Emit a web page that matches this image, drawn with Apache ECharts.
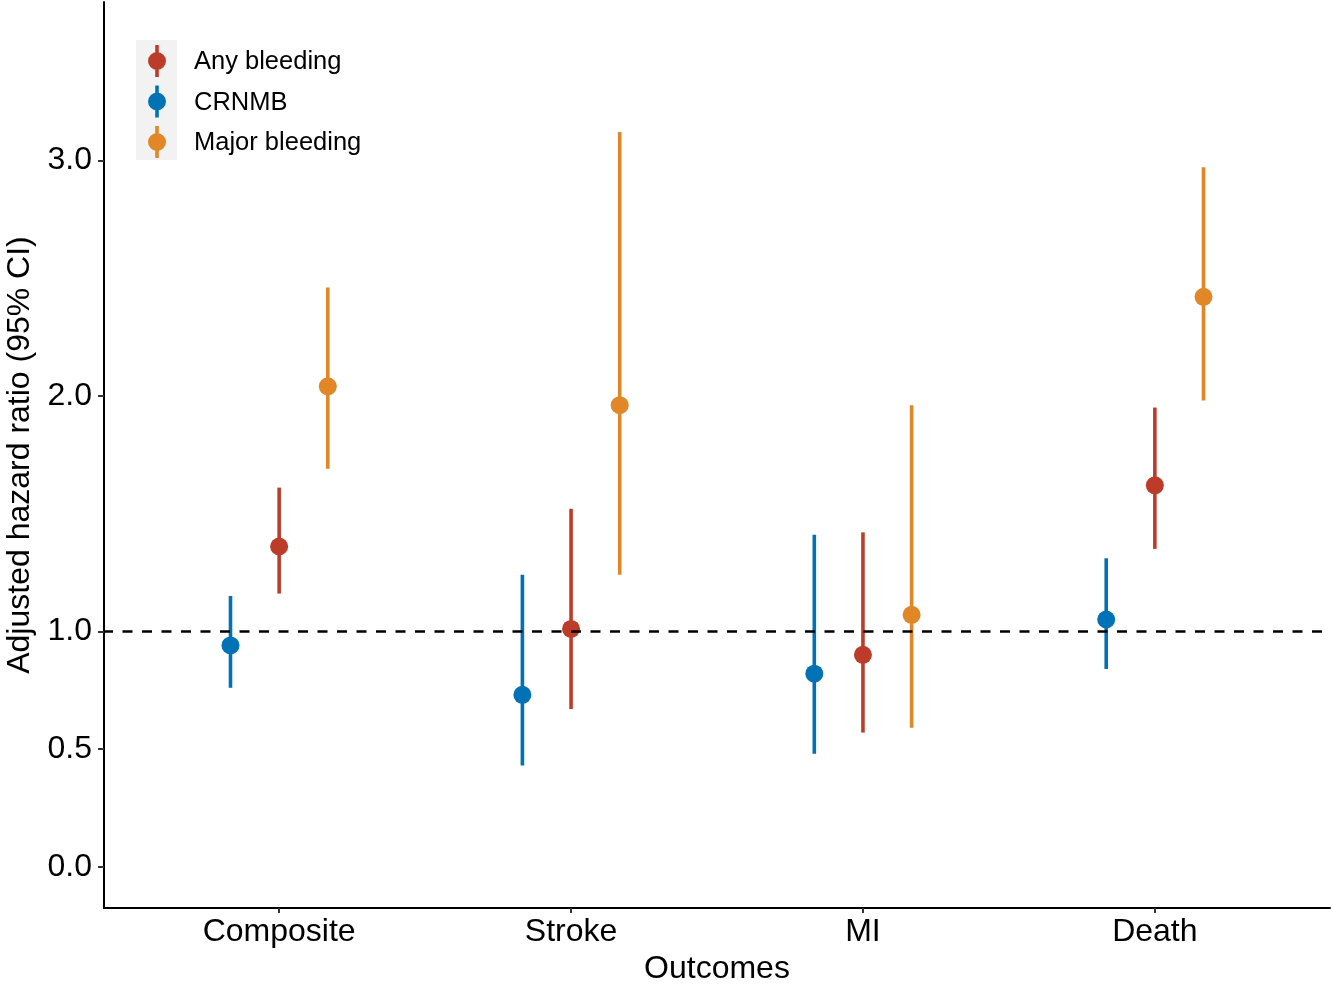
<!DOCTYPE html>
<html>
<head>
<meta charset="utf-8">
<script src="https://cdn.jsdelivr.net/npm/echarts@6/dist/echarts.min.js"></script>
<style>html,body{margin:0;padding:0;background:#fff}#c{width:1333px;height:984px}</style>
</head>
<body>
<div id="c"></div>
<script>
// ---- data ----
const categories = ['Composite', 'Stroke', 'MI', 'Death'];
const seriesNames = ['Any bleeding', 'CRNMB', 'Major bleeding'];
const anyEst = [1.36, 1.01, 0.90, 1.62];
const anyLo  = [1.16, 0.67, 0.57, 1.35];
const anyHi  = [1.61, 1.52, 1.42, 1.95];
const crnmbEst = [0.94, 0.73, 0.82, 1.05];
const crnmbLo  = [0.76, 0.43, 0.48, 0.84];
const crnmbHi  = [1.15, 1.24, 1.41, 1.31];
const majorEst = [2.04, 1.96, 1.07, 2.42];
const majorLo  = [1.69, 1.24, 0.59, 1.98];
const majorHi  = [2.46, 3.12, 1.96, 2.97];
const yTicks = [0, 0.5, 1, 2, 3];
const refLine = 1;

// ---- layout / style ----
const colors = ['#BC3C29', '#0072B5', '#E18727'];
const dodge = [0, -1 / 6, 1 / 6];
const FONT = 'Liberation Sans';
const groups = [
  {est: anyEst, lo: anyLo, hi: anyHi},
  {est: crnmbEst, lo: crnmbLo, hi: crnmbHi},
  {est: majorEst, lo: majorLo, hi: majorHi}
];

const iconPath = 'path://M-1.8,-16 L1.8,-16 L1.8,16 L-1.8,16 Z M-9,0 A9,9 0 1,1 9,0 A9,9 0 1,1 -9,0 Z';

const series = [];
groups.forEach((g, k) => {
  const pts = categories.map((c, i) => [i + 1 + dodge[k], g.est[i]]);
  const bars = categories.map((c, i) => [i + 1 + dodge[k], g.lo[i], g.hi[i]]);
  series.push({
    name: seriesNames[k],
    type: 'custom',
    data: bars,
    encode: {x: 0, y: [1, 2]},
    itemStyle: {color: colors[k]},
    z: 2,
    silent: true,
    renderItem: function (params, api) {
      const x = api.value(0);
      const p1 = api.coord([x, api.value(1)]);
      const p2 = api.coord([x, api.value(2)]);
      return {
        type: 'line',
        shape: {x1: p1[0], y1: p1[1], x2: p2[0], y2: p2[1]},
        style: {stroke: colors[k], lineWidth: 3.6, lineCap: 'butt'}
      };
    }
  });
  series.push({
    name: seriesNames[k],
    type: 'scatter',
    data: pts,
    symbol: 'circle',
    symbolSize: 18,
    itemStyle: {color: colors[k], opacity: 1},
    z: 3,
    silent: true
  });
});
// reference line
series.push({
  name: 'ref',
  type: 'line',
  data: [],
  markLine: {
    silent: true,
    symbol: ['none', 'none'],
    label: {show: false},
    lineStyle: {color: '#000', width: 2.5, type: [10, 9.5], dashOffset: 1},
    data: [{yAxis: refLine}]
  },
  z: 1
});

const chart = echarts.init(document.getElementById('c'), null, {renderer: 'canvas'});
chart.setOption({
  backgroundColor: '#fff',
  animation: false,
  textStyle: {fontFamily: FONT},
  grid: {left: 104, right: 3, top: 2, bottom: 76, containLabel: false, outerBoundsMode: 'none'},
  graphic: [{
    type: 'rect',
    left: 136, top: 40, z: 0,
    shape: {width: 41, height: 120},
    style: {fill: '#F2F2F2'}
  }],
  legend: {
    left: 148, top: 45, orient: 'vertical',
    padding: 0,
    itemWidth: 18, itemHeight: 32, itemGap: 8.5,
    data: seriesNames.map(n => ({name: n, icon: iconPath})),
    formatter: name => '{t|' + name + '}',
    textStyle: {
      fontSize: 25.5, color: '#000', fontFamily: FONT,
      rich: {t: {fontSize: 25.5, color: '#000', fontFamily: FONT, padding: [2, 0, 0, 23]}}
    },
    selectedMode: false,
    z: 5
  },
  xAxis: {
    type: 'value', min: 0.4, max: 4.6,
    name: 'Outcomes', nameLocation: 'middle', nameGap: 43,
    nameTextStyle: {fontSize: 32, color: '#000', fontFamily: FONT},
    axisLine: {show: true, onZero: false, lineStyle: {color: '#000', width: 2}},
    axisTick: {show: true, customValues: [1, 2, 3, 4], length: 5, lineStyle: {color: '#333', width: 2}},
    axisLabel: {
      customValues: [1, 2, 3, 4], margin: 8, fontSize: 32, color: '#000', fontFamily: FONT,
      formatter: v => categories[Math.round(v) - 1] || ''
    },
    splitLine: {show: false}
  },
  yAxis: {
    type: 'value', min: -0.175, max: 3.672,
    name: 'Adjusted hazard ratio (95% CI)', nameLocation: 'middle', nameGap: 64, nameRotate: 90,
    nameTextStyle: {fontSize: 32, color: '#000', fontFamily: FONT},
    axisLine: {show: true, onZero: false, lineStyle: {color: '#000', width: 2}},
    axisTick: {show: true, customValues: yTicks, length: 6, lineStyle: {color: '#333', width: 2}},
    axisLabel: {
      customValues: yTicks, margin: 12, fontSize: 32, color: '#000', fontFamily: FONT,
      formatter: v => v.toFixed(1)
    },
    splitLine: {show: false}
  },
  series: series
});
</script>
</body>
</html>
